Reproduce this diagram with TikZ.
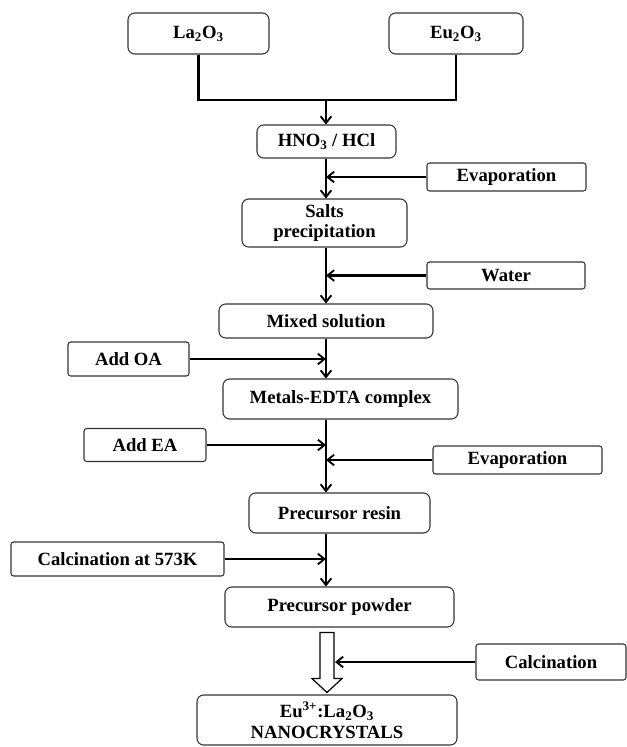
\documentclass[tikz,border=0pt]{standalone}
\usepackage{fontspec}
\setmainfont{Liberation Serif}
\usetikzlibrary{arrows.meta,calc}

\newlength{\px}
\setlength{\px}{0.75pt}

\tikzset{
  stage/.style={draw=black!80,line width=0.8pt,rounded corners=5pt,inner sep=0pt,
    align=center,font=\fontsize{14}{15.5}\selectfont\bfseries},
  feed/.style={draw=black!80,line width=0.8pt,rounded corners=2pt,inner sep=0pt,
    align=center,font=\fontsize{14}{15.5}\selectfont\bfseries},
  flow/.style={line width=1.6pt,-{Straight Barb[length=5pt,width=8pt,line width=1.4pt]}},
}

\begin{document}
\begin{tikzpicture}[x=\px,y=-\px]
  \useasboundingbox (0,0) rectangle (627,747);
  \coordinate (axis) at (326,0);

  % oxides and acid
  \node[stage,minimum width=141\px,minimum height=41\px] (la) at (198.5,33.5) {La\textsubscript{2}O\textsubscript{3}};
  \node[stage,minimum width=134\px,minimum height=41\px] (eu) at (456,33.5) {Eu\textsubscript{2}O\textsubscript{3}};
  \node[stage,minimum width=139\px,minimum height=33\px] (hno) at (326.5,141.5) {HNO\textsubscript{3} / HCl};
  \coordinate (join) at (326,100);
  \draw[line width=1.6pt] (la.south) |- (join) -| (eu.south);
  \draw[flow] (join) -- (join |- hno.north);

  % main sequence
  \node[stage,minimum width=165\px,minimum height=48\px] (salts) at (324.5,223) {Salts\\precipitation};
  \node[stage,minimum width=214\px,minimum height=34\px] (mixed) at (326,321) {Mixed solution};
  \node[stage,minimum width=235\px,minimum height=40\px] (metals) at (340.5,399) {Metals-EDTA complex};
  \node[stage,minimum width=181\px,minimum height=40\px] (resin) at (339.5,513) {Precursor resin};
  \node[stage,minimum width=229\px,minimum height=40\px] (powder) at (339.5,607) {Precursor powder};
  \node[stage,minimum width=260\px,minimum height=50\px] (nano) at (327,720) {Eu\textsuperscript{3+}:La\textsubscript{2}O\textsubscript{3}\\NANOCRYSTALS};

  % additions
  \node[feed,minimum width=159\px,minimum height=28\px] (ev1) at (506.5,177) {Evaporation};
  \node[feed,minimum width=158\px,minimum height=27\px] (water) at (506,275.5) {Water};
  \node[feed,minimum width=121\px,minimum height=34\px] (addoa) at (128.5,359) {Add OA};
  \node[feed,minimum width=122\px,minimum height=33\px] (addea) at (145,445) {Add EA};
  \node[feed,minimum width=169\px,minimum height=28\px] (ev2) at (517.5,460) {Evaporation};
  \node[feed,minimum width=213\px,minimum height=34\px] (calc1) at (117.5,559) {Calcination at 573K};
  \node[feed,minimum width=150\px,minimum height=36\px] (calc2) at (551,662) {Calcination};

  \draw[flow] (axis |- hno.south) -- (axis |- salts.north);
  \draw[flow] (axis |- salts.south) -- (axis |- mixed.north);
  \draw[flow] (axis |- mixed.south) -- (axis |- metals.north);
  \draw[flow] (axis |- metals.south) -- (axis |- resin.north);
  \draw[flow] (axis |- resin.south) -- (axis |- powder.north);

  \draw[flow] (ev1.west) -- (axis |- ev1.west);
  \draw[flow] (water.west) -- (axis |- water.west);
  \draw[flow] (addoa.east) -- (axis |- addoa.east);
  \draw[flow] (addea.east) -- (axis |- addea.east);
  \draw[flow] (ev2.west) -- (axis |- ev2.west);
  \draw[flow] (calc1.east) -- (axis |- calc1.east);

  % hollow arrow to the product
  \coordinate (bt) at ($(axis |- powder.south)+(1,5)$);
  \draw[line width=0.9pt,fill=white] ($(bt)+(-7,0)$) -- ($(bt)+(7,0)$) -- ($(bt)+(7,46)$)
    -- ($(bt)+(15,46)$) -- ($(bt |- nano.north)+(0,-2)$) -- ($(bt)+(-15,46)$)
    -- ($(bt)+(-7,46)$) -- cycle;
  \draw[flow] (calc2.west) -- ($(bt |- calc2.west)+(8,0)$);
\end{tikzpicture}
\end{document}
